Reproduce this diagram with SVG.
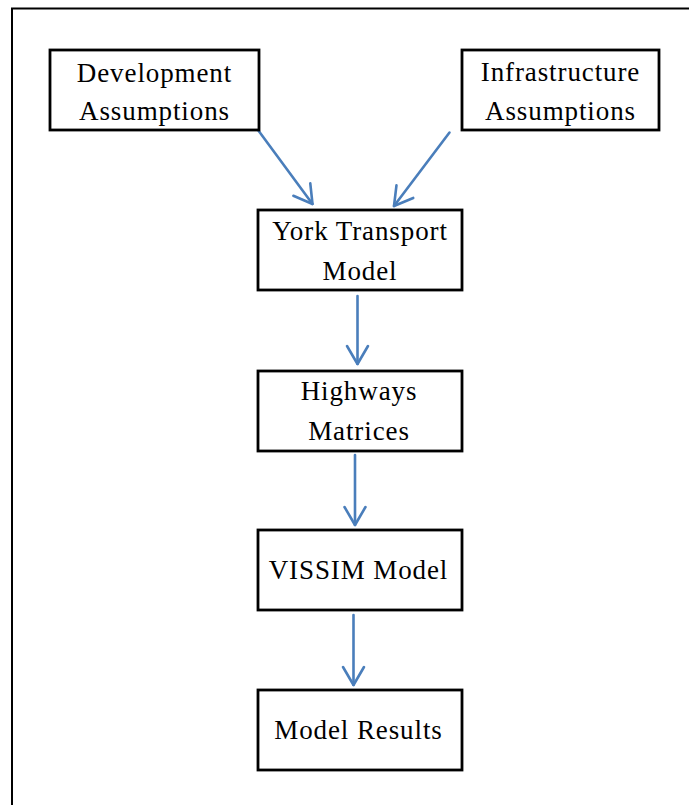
<svg xmlns="http://www.w3.org/2000/svg" width="689" height="805" viewBox="0 0 689 805">
  <style>
    .box { fill: #ffffff; stroke: #000000; stroke-width: 2.8; }
    .label { font-family: "Liberation Serif", "Times New Roman", serif; font-size: 27px; fill: #000000; text-anchor: middle; letter-spacing: 0.9px; }
    .link { fill: none; stroke: #4a7ebb; stroke-width: 2.6; stroke-linecap: round; }
    .frame { fill: none; stroke: #000000; stroke-width: 2; }
  </style>
  <defs>
    <marker id="open-arrow" markerUnits="userSpaceOnUse" viewBox="-22 -13 26 26" markerWidth="26" markerHeight="26" refX="0" refY="0" orient="auto">
      <path d="M-18,-10.5 L0,0 L-18,10.5" fill="none" stroke="#4a7ebb" stroke-width="2.6" stroke-linecap="round" stroke-linejoin="round"/>
    </marker>
  </defs>
  <rect width="689" height="805" fill="#ffffff"/>
  <!-- page frame: left and top edges -->
  <path class="frame" d="M12,805 V8.5 H689"/>

  <g id="connectors">
    <line class="link" x1="258" y1="130" x2="312.5" y2="204" marker-end="url(#open-arrow)"/>
    <line class="link" x1="449.5" y1="132.5" x2="394" y2="206" marker-end="url(#open-arrow)"/>
    <line class="link" x1="357.5" y1="296" x2="357.5" y2="364" marker-end="url(#open-arrow)"/>
    <line class="link" x1="355" y1="455" x2="355" y2="525" marker-end="url(#open-arrow)"/>
    <line class="link" x1="353.5" y1="615" x2="353.5" y2="685" marker-end="url(#open-arrow)"/>
  </g>

  <g id="development-assumptions">
    <rect class="box" x="50" y="50" width="209" height="80"/>
    <text class="label" x="154.5" y="82">Development</text>
    <text class="label" x="154.5" y="120">Assumptions</text>
  </g>
  <g id="infrastructure-assumptions">
    <rect class="box" x="462" y="50" width="197" height="80"/>
    <text class="label" x="560.5" y="81">Infrastructure</text>
    <text class="label" x="560.5" y="120">Assumptions</text>
  </g>
  <g id="york-transport-model">
    <rect class="box" x="258" y="210" width="204" height="80"/>
    <text class="label" x="360" y="240">York Transport</text>
    <text class="label" x="360" y="280">Model</text>
  </g>
  <g id="highways-matrices">
    <rect class="box" x="258" y="371" width="204" height="80"/>
    <text class="label" x="359" y="400">Highways</text>
    <text class="label" x="359" y="440">Matrices</text>
  </g>
  <g id="vissim-model">
    <rect class="box" x="258" y="530" width="204" height="80"/>
    <text class="label" x="358.5" y="579">VISSIM Model</text>
  </g>
  <g id="model-results">
    <rect class="box" x="258" y="690" width="204" height="80"/>
    <text class="label" x="358.5" y="739">Model Results</text>
  </g>
</svg>
